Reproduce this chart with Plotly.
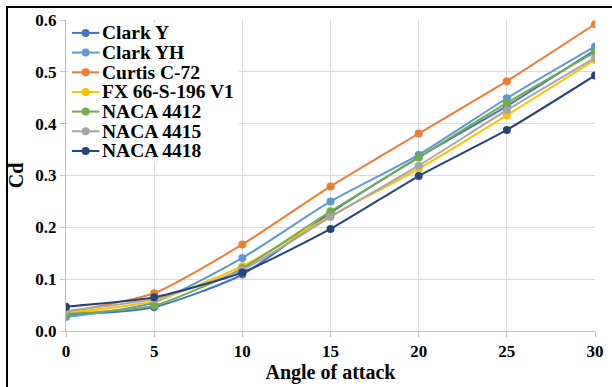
import plotly.graph_objects as go

# Angle of attack (degrees)
angles = [0, 5, 10, 15, 20, 25, 30]

# Drag coefficient for each airfoil
clark_y = [0.031, 0.046, 0.109, 0.228, 0.335, 0.434, 0.542]
clark_yh = [0.027, 0.055, 0.141, 0.250, 0.340, 0.449, 0.549]
curtis_c72 = [0.036, 0.073, 0.167, 0.279, 0.381, 0.482, 0.592]
fx_66_s_196 = [0.035, 0.058, 0.125, 0.222, 0.313, 0.416, 0.523]
naca_4412 = [0.033, 0.049, 0.121, 0.231, 0.335, 0.440, 0.538]
naca_4415 = [0.039, 0.062, 0.118, 0.220, 0.319, 0.426, 0.527]
naca_4418 = [0.047, 0.065, 0.113, 0.197, 0.299, 0.388, 0.493]

series = [
    ("Clark Y", clark_y, "#4472C4"),
    ("Clark YH", clark_yh, "#5B9BD5"),
    ("Curtis C-72", curtis_c72, "#ED7D31"),
    ("FX 66-S-196 V1", fx_66_s_196, "#FFC000"),
    ("NACA 4412", naca_4412, "#70AD47"),
    ("NACA 4415", naca_4415, "#A5A5A5"),
    ("NACA 4418", naca_4418, "#264478"),
]

font_family = "Liberation Serif"

W, H = 612, 387
M_L, M_R, M_T, M_B = 66, 8, 20, 54
PW, PH = W - M_L - M_R, H - M_T - M_B


def px_x(px):
    """Pixel column -> paper x."""
    return (px - M_L) / PW


def px_y(py):
    """Pixel row -> paper y."""
    return (H - M_B - py) / PH


fig = go.Figure()
for name, values, color in series:
    fig.add_trace(go.Scatter(
        x=angles, y=values, name=name,
        mode="lines+markers",
        line=dict(color=color, width=2, shape="spline", smoothing=0.6),
        marker=dict(color=color, size=8),
        showlegend=False,
    ))

fig.update_layout(
    width=W, height=H,
    margin=dict(l=M_L, r=M_R, t=M_T, b=M_B),
    paper_bgcolor="white", plot_bgcolor="white",
    font=dict(family=font_family, color="black"),
    xaxis=dict(
        range=[0, 30], tickmode="array", tickvals=angles,
        showgrid=True, gridcolor="#D9D9D9", gridwidth=1,
        showline=True, linecolor="#BFBFBF", linewidth=1,
        ticks="outside", ticklen=5, tickcolor="#BFBFBF",
        zeroline=False, ticklabeloverflow="allow",
        tickfont=dict(family=font_family, size=17, color="black", weight="bold"),
        title=dict(text="Angle of attack", standoff=4,
                   font=dict(family=font_family, size=20, color="black", weight="bold")),
    ),
    yaxis=dict(
        range=[0, 0.6], dtick=0.1, tickformat=".1f",
        showgrid=True, gridcolor="#D9D9D9", gridwidth=1,
        showline=True, linecolor="#BFBFBF", linewidth=1,
        ticks="outside", ticklen=5, tickcolor="#BFBFBF",
        zeroline=False,
        tickfont=dict(family=font_family, size=17, color="black", weight="bold"),
        title=dict(text="Cd", standoff=6,
                   font=dict(family=font_family, size=20, color="black", weight="bold")),
    ),
)

# Legend box with white background, drawn inside the plot area
box_left, box_right, box_top, box_bottom = 69, 242, 23, 162
fig.add_shape(
    type="rect", xref="paper", yref="paper",
    x0=px_x(box_left), x1=px_x(box_right), y0=px_y(box_bottom), y1=px_y(box_top),
    line=dict(width=0), fillcolor="white", layer="above",
)

row0, row_step = 33, 19.8
for i, (name, _, color) in enumerate(series):
    ry = px_y(row0 + i * row_step)
    fig.add_shape(
        type="line", xref="paper", yref="paper",
        x0=px_x(72), x1=px_x(100), y0=ry, y1=ry,
        line=dict(color=color, width=2), layer="above",
    )
    fig.add_shape(
        type="circle", xref="paper", yref="paper",
        xsizemode="pixel", ysizemode="pixel",
        xanchor=px_x(86), yanchor=ry, x0=-4, x1=4, y0=-4, y1=4,
        line=dict(color=color, width=0), fillcolor=color, layer="above",
    )
    fig.add_annotation(
        xref="paper", yref="paper", x=px_x(101), y=ry,
        xanchor="left", yanchor="middle", showarrow=False,
        text=name,
        font=dict(family=font_family, size=19.5, color="black", weight="bold"),
    )

# Outer frame around the chart
fig.add_shape(
    type="rect", xref="paper", yref="paper",
    x0=px_x(6), x1=1.1, y0=-0.3, y1=px_y(7),
    line=dict(color="black", width=2), fillcolor="rgba(0,0,0,0)",
    layer="below",
)

fig.write_html("out.html")
